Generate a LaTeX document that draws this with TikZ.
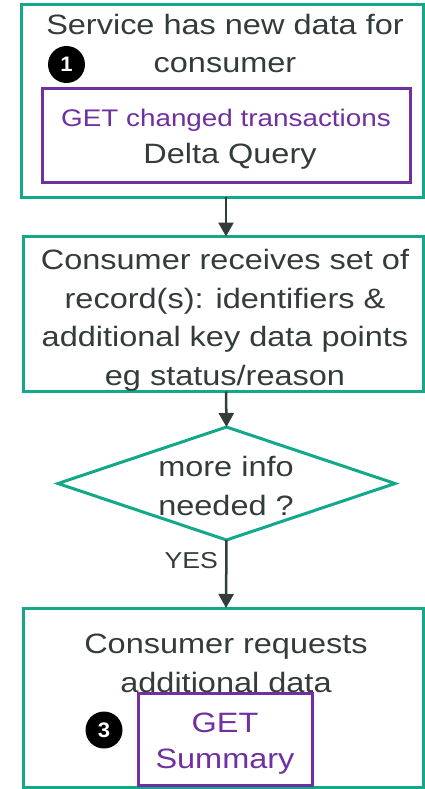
\documentclass[tikz,border=0pt]{standalone}
\usepackage{fontspec}
\newfontfamily\diag[FakeStretch=1.16]{Liberation Sans}
\newfontfamily\badgefont[FakeStretch=1.05]{Liberation Sans}
\usetikzlibrary{arrows.meta,shapes.geometric}
\definecolor{tealc}{HTML}{14A88B}
\definecolor{purp}{HTML}{7030A0}
\definecolor{ink}{HTML}{333B3B}
\tikzset{
  tealbox/.style={draw=tealc, line width=3pt, inner sep=0pt, outer sep=0pt, fill=white},
  purpbox/.style={draw=purp, line width=3pt, inner sep=0pt, outer sep=0pt},
  txt/.style={text=ink, align=center, inner sep=0pt, anchor=base, font=\diag\fontsize{28}{38.5}\selectfont},
  ptxt/.style={txt, text=purp},
  badge/.style={circle, fill=black, minimum size=37pt, inner sep=0pt, text=white, font=\badgefont\bfseries\fontsize{21}{21}\selectfont},
  arr/.style={draw=ink, line width=2.5pt, -{Triangle[width=15pt,length=14pt]}},
  lbl/.style={text=ink, inner sep=0pt, font=\diag\fontsize{23}{23}\selectfont}
}
\begin{document}
\begin{tikzpicture}[x=1pt,y=-1pt]
\useasboundingbox (0,0) rectangle (425,789);
% box 1
\node[tealbox, minimum width=402pt, minimum height=192pt] (b1) at (222,101) {};
\node[txt] (t1) at (225,73) {Service has new data for\\consumer};
\node[badge] (c1) at (66.5,64.5) {1};
\node[purpbox, minimum width=368pt, minimum height=93pt] (p1) at (226,135.5) {};
\node[ptxt] (t1a) at (226,126) {\fontsize{24}{37}\selectfont GET changed transactions};
\node[txt] (t1b) at (230,163) {Delta Query};
% box 2
\node[tealbox, minimum width=400pt, minimum height=155pt] (b2) at (223,314) {};
\node[txt] (t2) at (225,385) {Consumer receives set of\\record(s): identifiers \&\\additional key data points\\eg status/reason};
% diamond
\node[tealbox, diamond, minimum width=337pt, minimum height=113pt, fill=none] (d) at (226.5,483.5) {};
\node[txt] (t3) at (226,515) {more info\\needed ?};
% box 3
\node[tealbox, minimum width=400pt, minimum height=179pt] (b3) at (223,697.5) {};
\node[txt] (t4) at (226,692) {Consumer requests\\additional data};
\node[purpbox, minimum width=174pt, minimum height=92pt, fill=white] (p2) at (225,739) {};
\node[ptxt, font=\diag\fontsize{28}{36}\selectfont] (t5) at (225,768) {GET\\Summary};
\node[badge] (c3) at (104,730) {3};
% connectors
\coordinate (ax) at (226,0);
\draw[arr] (b1.south -| ax) -- (b2.north -| ax);
\draw[arr] (b2.south -| ax) -- (d.north);
\draw[arr] (d.south) -- node[lbl, anchor=base east, pos=0.42, xshift=-7pt] (yes) {YES} (b3.north -| ax);
\end{tikzpicture}
\end{document}
